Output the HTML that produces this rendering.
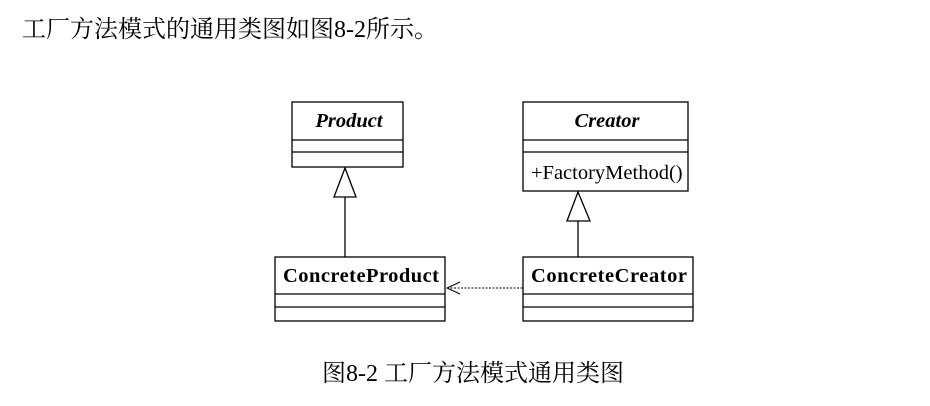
<!DOCTYPE html>
<html><head><meta charset="utf-8"><style>
html,body{margin:0;padding:0;background:#fff;width:930px;height:406px;overflow:hidden;position:relative}
.t{position:absolute;font-family:"Liberation Serif","Noto Serif CJK SC","Noto Sans CJK SC",serif;color:#000;white-space:nowrap;line-height:1}
</style></head><body>
<div class="t" style="left:22px;top:18px;font-size:24px;">工厂方法模式的通用类图如图8-2所示。</div>
<svg style="position:absolute;left:0;top:0" width="930" height="406" font-family="Liberation Serif, serif">
<g fill="#fff" stroke="#000" stroke-width="1.3">
<rect x="292" y="102" width="111" height="65"/>
<line x1="292" y1="140" x2="403" y2="140"/><line x1="292" y1="152" x2="403" y2="152"/>
<rect x="523" y="102" width="165" height="89"/>
<line x1="523" y1="140" x2="688" y2="140"/><line x1="523" y1="152" x2="688" y2="152"/>
<rect x="275" y="257" width="170" height="64"/>
<line x1="275" y1="294" x2="445" y2="294"/><line x1="275" y1="307" x2="445" y2="307"/>
<rect x="523" y="257" width="170" height="64"/>
<line x1="523" y1="294" x2="693" y2="294"/><line x1="523" y1="307" x2="693" y2="307"/>
<line x1="345" y1="197" x2="345" y2="257"/>
<polygon points="345,168 334,197 356,197"/>
<line x1="578" y1="221" x2="578" y2="257"/>
<polygon points="578,192 567,221 590,221"/>
<line x1="447" y1="288" x2="523" y2="288" stroke-dasharray="2,1.5" stroke-width="1"/>
<polyline points="460,282 447,288 460,294" fill="none" stroke-width="1"/>
</g>
<g fill="#000" font-size="20.5">
<text x="349" y="127" text-anchor="middle" font-weight="bold" font-style="italic">Product</text>
<text x="607" y="127" text-anchor="middle" font-weight="bold" font-style="italic">Creator</text>
<text x="531" y="179">+FactoryMethod()</text>
<text x="361" y="282" text-anchor="middle" font-weight="bold" textLength="156">ConcreteProduct</text>
<text x="609" y="282" text-anchor="middle" font-weight="bold" textLength="156">ConcreteCreator</text>
</g>
</svg>
<div class="t" style="left:322px;top:362px;font-size:24px;">图8-2 工厂方法模式通用类图</div>
</body></html>
